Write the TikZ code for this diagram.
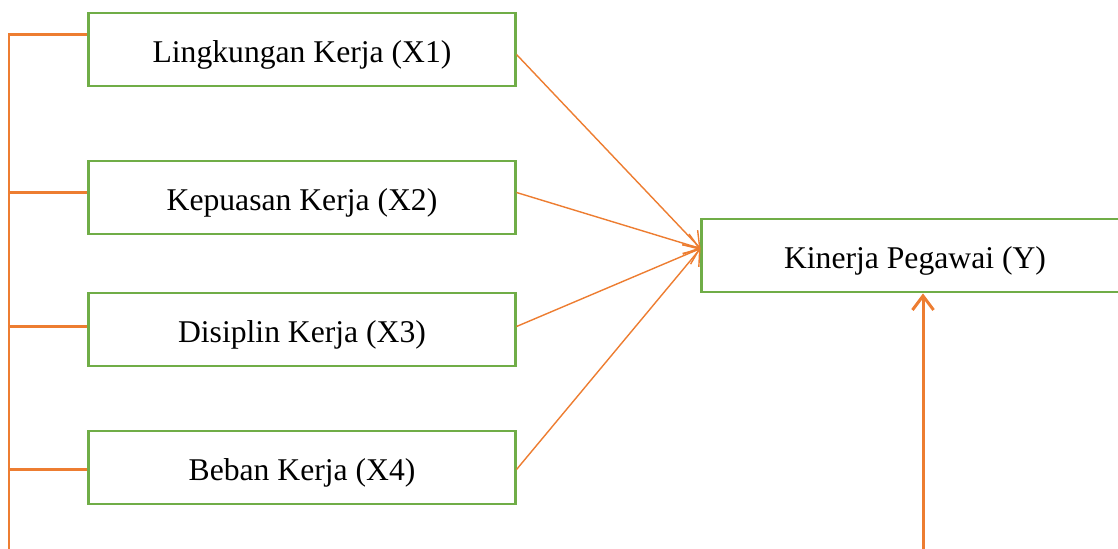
\documentclass[tikz,border=0pt]{standalone}
\usepackage{fontspec}
\setmainfont{Liberation Serif}
\usetikzlibrary{positioning,calc,arrows.meta}

\definecolor{boxgreen}{HTML}{70AD47}
\definecolor{linkorange}{HTML}{ED7D31}

\begin{document}
\begin{tikzpicture}[x=0.01cm, y=-0.01cm, every node/.style={font=\fontsize{9}{11}\selectfont}]
    \tikzset{block/.style={rectangle, draw=boxgreen, line width=0.8pt, minimum width=4.26cm, minimum height=0.73cm, inner sep=0pt, text height=0.75em, text depth=0pt}}
    \tikzset{line/.style={draw=linkorange, line width=0.4pt, -{Straight Barb[length=4pt, width=6pt]}}}
    \tikzset{bracket/.style={draw=linkorange, line width=0.85pt}}

    \useasboundingbox (0,0) rectangle (1118,548);
    \clip (0,0) rectangle (1118,548);

    \node [block] (x1) at (302,49.5) {Lingkungan Kerja (X1)};
    \node [block] (x2) at (302,197.5) {Kepuasan Kerja (X2)};
    \node [block] (x3) at (302,329.5) {Disiplin Kerja (X3)};
    \node [block] (x4) at (302,467.5) {Beban Kerja (X4)};
    \node [block] (y) at (915,255.5) {Kinerja Pegawai (Y)};

    \coordinate (bot) at (9,560);
    \coordinate (yin) at (923,560);
    \coordinate (hub) at ([yshift=0.07cm]y.west);

    % left bracket
    \draw [bracket] (bot) |- ([yshift=0.15cm]x1.west);
    \draw [bracket] ([yshift=0.05cm]x2.west) -- ([yshift=0.05cm]x2.west -| bot);
    \draw [bracket] ([yshift=0.03cm]x3.west) -- ([yshift=0.03cm]x3.west -| bot);
    \draw [bracket] ([yshift=-0.02cm]x4.west) -- ([yshift=-0.02cm]x4.west -| bot);

    \path [line] ([yshift=-0.05cm]x1.east) -- (hub);
    \path [line] ([yshift=0.05cm]x2.east) -- (hub);
    \path [line] ([yshift=0.03cm]x3.east) -- (hub);
    \path [line] ([yshift=-0.02cm]x4.east) -- (hub);

    \path [line, line width=0.85pt] (yin) -- (yin |- y.south);
\end{tikzpicture}
\end{document}
